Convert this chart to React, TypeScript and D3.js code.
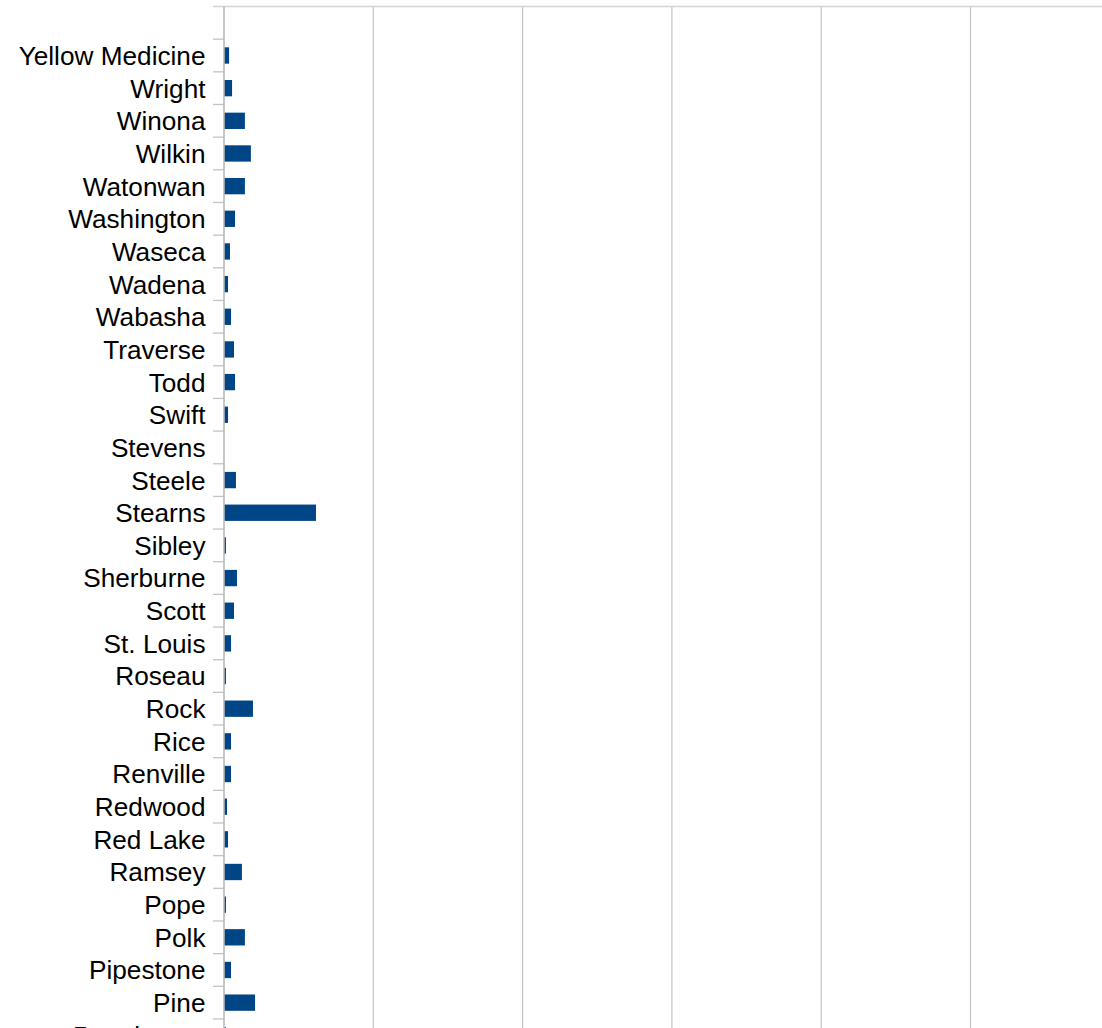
import * as d3 from 'd3';

const counties = [
  'Yellow Medicine', 'Wright', 'Winona', 'Wilkin', 'Watonwan', 'Washington', 'Waseca', 'Wadena',
  'Wabasha', 'Traverse', 'Todd', 'Swift', 'Stevens', 'Steele', 'Stearns', 'Sibley', 'Sherburne',
  'Scott', 'St. Louis', 'Roseau', 'Rock', 'Rice', 'Renville', 'Redwood', 'Red Lake', 'Ramsey',
  'Pope', 'Polk', 'Pipestone', 'Pine', 'Pennington',
];

const values = [
  0.034, 0.054, 0.14, 0.18, 0.14, 0.074, 0.04, 0.027,
  0.047, 0.067, 0.074, 0.027, 0, 0.08, 0.616, 0.013, 0.087,
  0.067, 0.047, 0.013, 0.194, 0.047, 0.047, 0.02, 0.027, 0.12,
  0.013, 0.14, 0.047, 0.208, 0.013,
];

const gridTicks = [0, 1, 2, 3, 4, 5, 6];

const W = 1102;
const H = 1028;
const plotTop = 6.5;
const step = 32.66;
const axisX = 224;
const tickLeft = 213;

export default function App() {
  const x = d3.scaleLinear().domain([0, 6]).range([axisX, axisX + 6 * 149.3]);
  const y = d3.scaleBand<string>()
    .domain(counties)
    .range([plotTop + step, plotTop + step * (counties.length + 1)])
    .paddingInner(0.5)
    .paddingOuter(0.25);

  const bandTop = (c: string) => plotTop + step * (counties.indexOf(c) + 1);
  const boundaries = d3.range(counties.length + 2).map(i => plotTop + i * step);

  return (
    <svg width={W} height={H} style={{ position: 'absolute', left: 0, top: 0, background: '#fff' }}
      fontFamily="'Liberation Sans', Arial, sans-serif">
      {gridTicks.slice(1).map(t => (
        <line key={t} x1={x(t)} x2={x(t)} y1={plotTop} y2={H} stroke="#c4c4c4" strokeWidth={1.2} />
      ))}
      <line x1={tickLeft} x2={W} y1={plotTop} y2={plotTop} stroke="#d4d4d4" strokeWidth={1.3} />
      {boundaries.slice(1).map((b, i) => (
        <line key={i} x1={tickLeft} x2={axisX} y1={b} y2={b} stroke="#c4c4c4" strokeWidth={1.3} />
      ))}
      {counties.map((c, i) => (
        <rect key={c} x={x(0)} y={y(c)} width={Math.max(0, x(values[i]) - x(0))}
          height={y.bandwidth()} fill="#004586" />
      ))}
      <line x1={axisX} x2={axisX} y1={plotTop} y2={H} stroke="#b8b8b8" strokeWidth={1.6} />
      {counties.map(c => (
        <text key={c} x={205.5} y={bandTop(c) + step / 2} dy="0.36em" textAnchor="end"
          fontSize={26.2} fill="#000">{c}</text>
      ))}
    </svg>
  );
}
